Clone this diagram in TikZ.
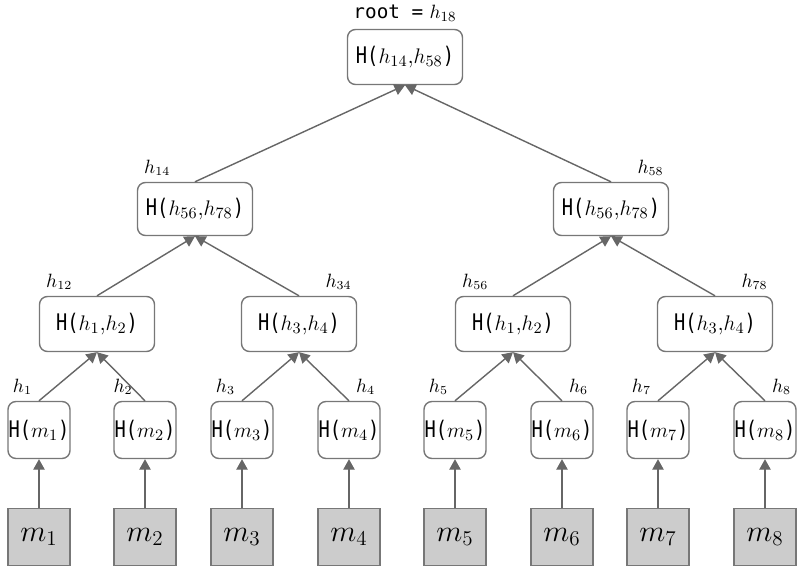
\documentclass[tikz,border=0pt]{standalone}
\usepackage{fontspec}
\setmonofont{DejaVu Sans Mono}
\newfontfamily\hashfont[FakeStretch=0.82]{DejaVu Sans Mono}
\usetikzlibrary{arrows.meta}
\definecolor{boxline}{HTML}{777777}
\definecolor{linkline}{HTML}{666666}
\definecolor{msgfill}{HTML}{CCCCCC}
\newcommand{\hcall}[1]{{\hashfont H(}#1{\hashfont)}}

\begin{document}
\begin{tikzpicture}[x=0.02cm,y=0.02cm,
	hashbox/.style={draw=boxline, line width=0.8pt, rounded corners=4.5pt, fill=white,
		inner sep=0pt, font=\fontsize{13}{15}\selectfont},
	leafbox/.style={hashbox, minimum width=1.24cm, minimum height=1.14cm},
	pairbox/.style={hashbox, minimum width=2.3cm, minimum height=1.1cm},
	msgbox/.style={draw=boxline, line width=0.8pt, fill=msgfill, inner sep=0pt,
		minimum width=1.24cm, minimum height=1.14cm, font=\fontsize{17}{19}\selectfont},
	hlabel/.style={inner sep=0pt, font=\fontsize{10.5}{12}\selectfont},
	link/.style={draw=linkline, line width=0.8pt, -{Triangle[width=6.5pt,length=6pt]}}]
	\useasboundingbox (0,0) rectangle (806,572);

	% root and inner hashes
	\node[pairbox] (h18) at (405,515) {\hcall{$h_{14}$,$h_{58}$}};
	\node[font=\fontsize{11}{13}\selectfont, anchor=base] (rootlbl) at ([yshift=6pt]h18.north) {\texttt{root =} $h_{18}$};
	\node[pairbox, minimum height=1.06cm] (h14) at (195,363) {\hcall{$h_{56}$,$h_{78}$}};
	\node[pairbox, minimum height=1.06cm] (h58) at (611,363) {\hcall{$h_{56}$,$h_{78}$}};
	\node[pairbox] (h12) at (97,248) {\hcall{$h_{1}$,$h_{2}$}};
	\node[pairbox] (h34) at (299,248) {\hcall{$h_{3}$,$h_{4}$}};
	\node[pairbox] (h56) at (513,248) {\hcall{$h_{1}$,$h_{2}$}};
	\node[pairbox] (h78) at (715,248) {\hcall{$h_{3}$,$h_{4}$}};

	\draw[link] (h14.north) -- (h18.south);
	\draw[link] (h58.north) -- (h18.south);
	\draw[link] (h12.north) -- (h14.south);
	\draw[link] (h34.north) -- (h14.south);
	\draw[link] (h56.north) -- (h58.south);
	\draw[link] (h78.north) -- (h58.south);

	\node[hlabel, anchor=base west] at ([xshift=4pt,yshift=5pt]h14.north west) {$h_{14}$};
	\node[hlabel, anchor=base east] at ([xshift=-3pt,yshift=5pt]h58.north east) {$h_{58}$};
	\node[hlabel, anchor=base west] at ([xshift=4pt,yshift=5pt]h12.north west) {$h_{12}$};
	\node[hlabel, anchor=base east] at ([xshift=-3pt,yshift=5pt]h34.north east) {$h_{34}$};
	\node[hlabel, anchor=base west] at ([xshift=4pt,yshift=5pt]h56.north west) {$h_{56}$};
	\node[hlabel, anchor=base east] at ([xshift=-3pt,yshift=5pt]h78.north east) {$h_{78}$};

	% leaves and messages
	\foreach \i/\x/\up/\c/\a/\dx in {1/39/h12/north west/base west/3pt, 2/145/h12/north west/base west/0pt,
		3/242/h34/north west/base west/3pt, 4/349/h34/north east/base east/-3pt,
		5/455/h56/north west/base west/3pt, 6/562/h56/north east/base east/-3pt,
		7/658/h78/north west/base west/3pt, 8/765/h78/north east/base east/-3pt}{
		\node[leafbox] (h\i) at (\x,142) {\hcall{$m_{\i}$}};
		\node[msgbox] (m\i) at (\x,35) {$m_{\i}$};
		\node[hlabel, anchor=\a] at ([xshift=\dx,yshift=5pt]h\i.\c) {$h_{\i}$};
		\draw[link] (m\i.north) -- (h\i.south);
		\draw[link] (h\i.north) -- (\up.south);
	}
\end{tikzpicture}
\end{document}
